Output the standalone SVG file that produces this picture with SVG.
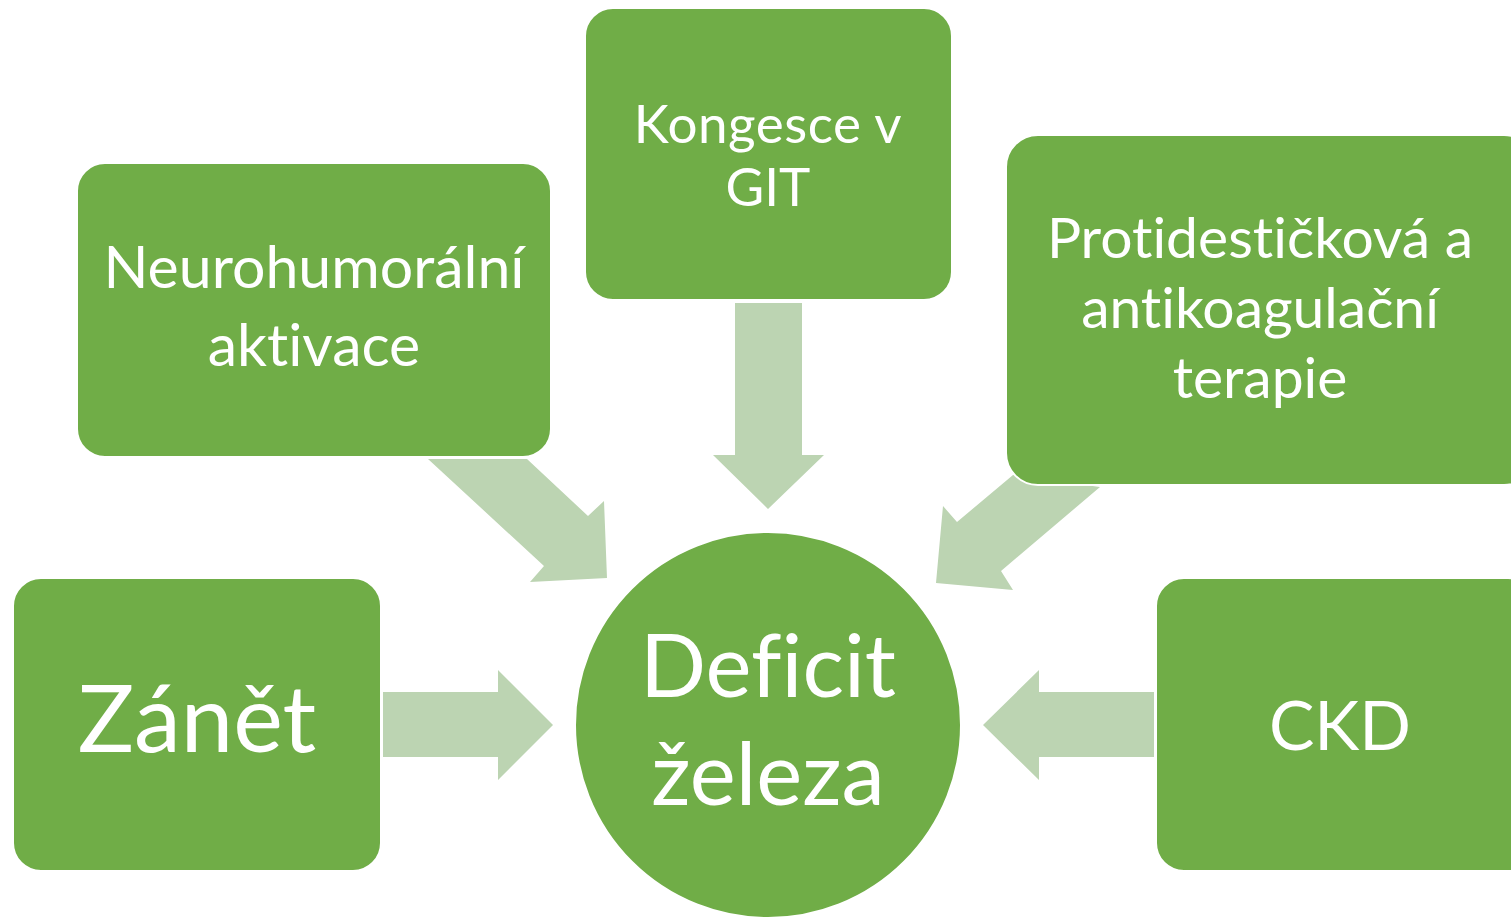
<svg xmlns="http://www.w3.org/2000/svg" width="1511" height="917" viewBox="0 0 1511 917">
<style>
.box{fill:#70AD47;stroke:#ffffff;stroke-width:2}
.arr{fill:#BCD4B2}
.t{fill:#ffffff;font-family:Lato,"Open Sans","Liberation Sans",sans-serif;text-anchor:middle;font-variant-ligatures:none}
</style>
<rect width="1511" height="917" fill="#ffffff"/>
<g id="connectors">
<polygon class="arr" points="735,303 802,303 802,455 824,455 768,509 713,455 735,455"/>
<polygon class="arr" points="383,692 498,692 498,670 553,725 498,780 498,757 383,757"/>
<polygon class="arr" points="1154,692 1039,692 1039,670 983,725 1039,780 1039,757 1154,757"/>
<polygon class="arr" points="428,459 527,459 588,516 604,501 607,578 530,582 544,566"/>
<polygon class="arr" points="1100,487 1013,475 957,522 943,506 936,583 1013,590 1001,571"/>
</g>
<g id="n_neuro">
<rect class="box" x="77" y="163" width="474" height="294" rx="28"/>
<text class="t" x="314" y="288" font-size="59">Neurohumorální</text>
<text class="t" x="314" y="366" font-size="59">aktivace</text>
</g>
<g id="n_kongesce">
<rect class="box" x="585" y="8" width="367" height="292" rx="28"/>
<text class="t" x="768" y="143" font-size="53" letter-spacing="0.5">Kongesce v</text>
<text class="t" x="768" y="206" font-size="53">GIT</text>
</g>
<g id="n_proti">
<rect class="box" x="1006" y="135" width="530" height="350" rx="32"/>
<text class="t" x="1260" y="258" font-size="57">Protidestičková a</text>
<text class="t" x="1260" y="328" font-size="57">antikoagulační</text>
<text class="t" x="1260" y="398" font-size="57">terapie</text>
</g>
<g id="n_zanet">
<rect class="box" x="13" y="578" width="368" height="293" rx="28"/>
<text class="t" x="197" y="752" font-size="94">Zánět</text>
</g>
<g id="n_ckd">
<rect class="box" x="1156" y="578" width="380" height="293" rx="28"/>
<text class="t" x="1340" y="750" font-size="68">CKD</text>
</g>
<g id="n_deficit">
<circle class="box" cx="768" cy="725" r="193"/>
<text class="t" x="768" y="697" font-size="87">Deficit</text>
<text class="t" x="768" y="805" font-size="87">železa</text>
</g>
</svg>
